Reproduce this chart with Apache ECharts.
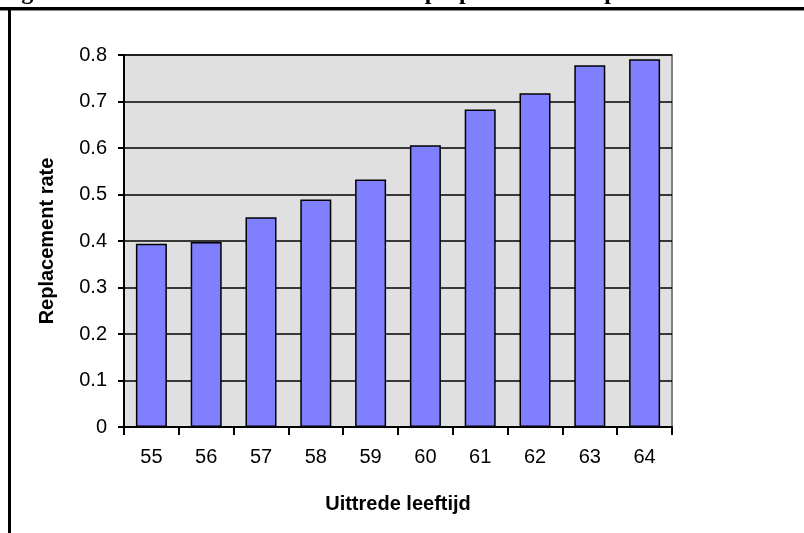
<!DOCTYPE html>
<html>
<head>
<meta charset="utf-8">
<script src="https://cdn.jsdelivr.net/npm/echarts@6/dist/echarts.min.js"></script>
<style>html,body{margin:0;padding:0;background:#fff;}#c{width:804px;height:533px;}</style>
</head>
<body>
<div id="c"></div>
<script>
const titleText = 'Figuur 5.2 Gemiddeld bruto inkomen uit prepensioen ten opzichte van het laatste inkomen';
const categories = ['55','56','57','58','59','60','61','62','63','64'];
const values = [0.394, 0.398, 0.451, 0.489, 0.532, 0.606, 0.683, 0.718, 0.778, 0.791];
const yTicks = [0, 0.1, 0.2, 0.3, 0.4, 0.5, 0.6, 0.7, 0.8];
const xName = 'Uittrede leeftijd';
const yName = 'Replacement rate';

const chart = echarts.init(document.getElementById('c'), null, {renderer: 'canvas'});
const font = 'Liberation Sans, Arial, sans-serif';
chart.setOption({
  animation: false,
  backgroundColor: '#ffffff',
  graphic: [
    {type: 'text', left: 0, top: -19, z: 10,
     style: {text: titleText, font: 'bold 24px "Liberation Serif", "Times New Roman", serif', fill: '#000'}},
    {type: 'rect', shape: {x: 0, y: 7, width: 804, height: 3}, style: {fill: '#000'}, z: 11},
    {type: 'rect', shape: {x: 0, y: 10, width: 804, height: 1}, style: {fill: '#888'}, z: 11},
    {type: 'rect', shape: {x: 8, y: 10, width: 3, height: 523}, style: {fill: '#000'}, z: 11}
  ],
  grid: {left: 124, right: 132, top: 55, bottom: 106, show: true,
         backgroundColor: '#e0e0e0', borderColor: '#808080', borderWidth: 2},
  xAxis: {
    type: 'category', data: categories,
    name: xName, nameLocation: 'middle', nameGap: 67,
    nameTextStyle: {fontFamily: font, fontSize: 20, fontWeight: 'bold', color: '#000'},
    axisLine: {lineStyle: {color: '#000', width: 2}},
    axisTick: {show: true, alignWithLabel: false, length: 8, lineStyle: {color: '#000', width: 2}},
    axisLabel: {fontFamily: font, fontSize: 20, color: '#000', margin: 20},
    splitLine: {show: false}
  },
  yAxis: {
    type: 'value', min: 0, max: 0.8, interval: 0.1,
    name: yName, nameLocation: 'middle', nameGap: 67, nameRotate: 90,
    nameTextStyle: {fontFamily: font, fontSize: 20, fontWeight: 'bold', color: '#000'},
    axisLine: {show: true, lineStyle: {color: '#000', width: 2}},
    axisTick: {show: true, length: 6, lineStyle: {color: '#000', width: 2}},
    axisLabel: {fontFamily: font, fontSize: 20, color: '#000', margin: 17,
      formatter: v => { const t = yTicks.find(x => Math.abs(x - v) < 1e-9); return t === undefined ? '' : String(t); }},
    splitLine: {show: true, lineStyle: {color: '#000', width: 1.5}}
  },
  series: [{
    type: 'bar', data: values, barWidth: 31,
    itemStyle: {color: '#8080ff', borderColor: '#000', borderWidth: 1.5}
  }]
});
</script>
</body>
</html>
